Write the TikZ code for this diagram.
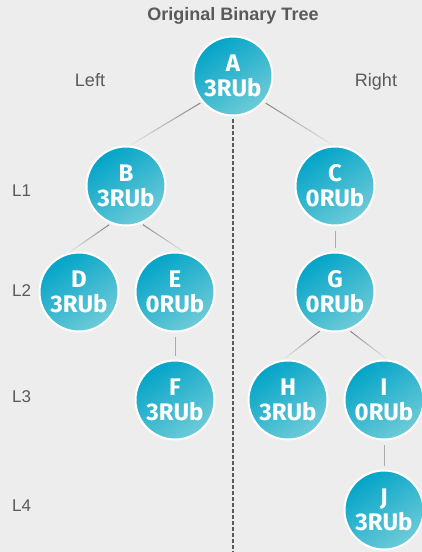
\documentclass[tikz,border=0pt]{standalone}
\usepackage{fontspec}
\usetikzlibrary{calc}
\setmainfont{Liberation Sans}
\newfontfamily\treefont{Fira Sans}

\definecolor{bgGray}{HTML}{EDEDED}
\definecolor{txtGray}{HTML}{5A5A5A}
\definecolor{edgeDark}{HTML}{858585}
\definecolor{edgeGray}{HTML}{ABABAB}
\definecolor{tealDark}{HTML}{02A4C8}
\definecolor{tealMid}{HTML}{14AECC}
\definecolor{tealLight}{HTML}{6ECBD8}

\tikzset{
    treenode/.style={circle, minimum size=79pt, inner sep=0pt,
        draw=white, line width=2pt,
        top color=tealDark, middle color=tealMid, bottom color=tealLight,
        shading angle=35, text=white, align=center,
        font=\treefont\bfseries\fontsize{24}{25}\selectfont},
    edge/.style={draw=edgeGray, line width=1pt, shorten <=4pt, shorten >=4pt},
    fadeedge/.style={line width=1pt},
    divider/.style={draw=txtGray, line width=1.2pt, dash pattern=on 4pt off 2pt},
    sidelabel/.style={text=txtGray, font=\fontsize{18}{20}\selectfont, anchor=base},
    levellabel/.style={text=txtGray, font=\fontsize{17}{20}\selectfont, anchor=west, inner sep=0pt},
}

\begin{document}
\begin{tikzpicture}[x=1pt, y=-1pt]
    % Canvas
    \fill[bgGray] (0,0) rectangle (422,552);
    \useasboundingbox (0,0) rectangle (422,552);
    % Title and side labels
    \node[text=txtGray, font=\bfseries\fontsize{18}{20}\selectfont] (title) at (233,16) {Original Binary Tree};
    \node[sidelabel] (left) at (90,86) {Left};
    \node[sidelabel] (right) at (376,86) {Right};
    % Level labels
    \foreach \lvl/\y in {1/191, 2/291, 3/397, 4/506} {
        \node[levellabel] (L\lvl) at (12,\y) {L\lvl};
    }
    % Tree nodes
    \node[treenode] (A) at (233,76) {A\\3RUb};
    \node[treenode] (B) at (126,186) {B\\3RUb};
    \node[treenode] (C) at (335,186) {C\\0RUb};
    \node[treenode] (D) at (79,292) {D\\3RUb};
    \node[treenode] (E) at (175,292) {E\\0RUb};
    \node[treenode] (G) at (335,292) {G\\0RUb};
    \node[treenode] (F) at (175,400) {F\\3RUb};
    \node[treenode] (H) at (288,400) {H\\3RUb};
    \node[treenode] (I) at (384,400) {I\\0RUb};
    \node[treenode] (J) at (384,510) {J\\3RUb};
    % Split between left and right subtrees
    \coordinate (base) at (233,552);
    \draw[divider, shorten <=2pt] (A.south) -- (base);
    % Slanted edges, fading out towards the child
    \foreach \a/\sa/\b/\sb in {A/220/B/85, A/320/C/92, B/248/D/105, B/292/E/75, G/250/H/97, G/290/I/85} {
        \path ($(\a.\sa)!2pt!(\b.\sb)$) coordinate (p) ($(\b.\sb)!2pt!(\a.\sa)$) coordinate (q);
        \foreach \i in {0,...,15} {
            \pgfmathsetmacro\ta{\i/16}
            \pgfmathsetmacro\tb{(\i+1)/16}
            \pgfmathsetmacro\pct{100-\i*6}
            \draw[fadeedge, draw=edgeDark!\pct!bgGray] ($(p)!\ta!(q)$) -- ($(p)!\tb!(q)$);
        }
    }
    % Straight edges
    \foreach \a/\b in {C/G, E/F, I/J} {
        \draw[edge] (\a) -- (\b);
    }
\end{tikzpicture}
\end{document}
